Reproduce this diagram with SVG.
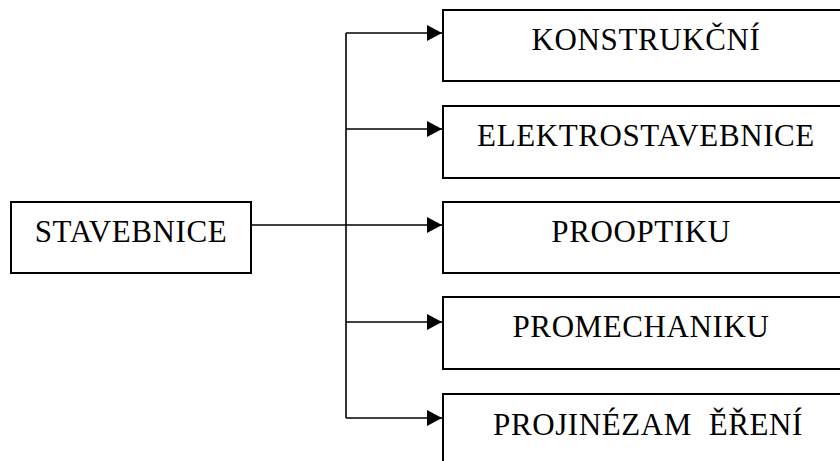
<svg xmlns="http://www.w3.org/2000/svg" width="840" height="461" viewBox="0 0 840 461">
<defs>
<style>
.box{fill:#fff;stroke:#000;stroke-width:2}
.lbl{font-family:"Liberation Serif","Times New Roman",serif;font-size:31px;letter-spacing:0.6px;fill:#000;text-anchor:middle;white-space:pre}
.ln{fill:none;stroke:#000;stroke-width:1.6}
</style>
<marker id="ah" markerWidth="15" markerHeight="16" refX="15" refY="8" orient="auto" markerUnits="userSpaceOnUse">
<path d="M0,0 L15,8 L0,16 Z" fill="#000"/>
</marker>
</defs>
<g id="connectors">
<path class="ln" d="M251,225 H442" marker-end="url(#ah)"/>
<path class="ln" d="M346,33 V418"/>
<path class="ln" d="M346,33 H442" marker-end="url(#ah)"/>
<path class="ln" d="M346,129 H442" marker-end="url(#ah)"/>
<path class="ln" d="M346,322 H442" marker-end="url(#ah)"/>
<path class="ln" d="M346,418 H442" marker-end="url(#ah)"/>
</g>
<g id="stavebnice">
<rect class="box" x="11" y="202" width="240" height="71"/>
<text class="lbl" x="131" y="242">STAVEBNICE</text>
</g>
<g id="konstrukcni">
<rect class="box" x="443" y="10" width="410" height="71"/>
<text class="lbl" x="646" y="50">KONSTRUKČNÍ</text>
</g>
<g id="elektrostavebnice">
<rect class="box" x="443" y="106" width="410" height="72"/>
<text class="lbl" x="646" y="146">ELEKTROSTAVEBNICE</text>
</g>
<g id="prooptiku">
<rect class="box" x="443" y="202" width="410" height="71"/>
<text class="lbl" x="641" y="242">PROOPTIKU</text>
</g>
<g id="promechaniku">
<rect class="box" x="443" y="297" width="410" height="72"/>
<text class="lbl" x="641" y="337">PROMECHANIKU</text>
</g>
<g id="projinezam">
<rect class="box" x="443" y="394" width="410" height="80"/>
<text class="lbl" x="648" y="435">PROJINÉZAM  ĚŘENÍ</text>
</g>
</svg>
